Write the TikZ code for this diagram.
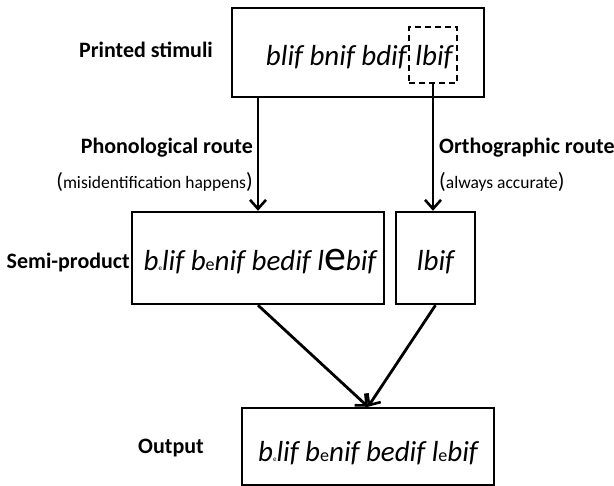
\documentclass[tikz,border=0pt]{standalone}
\usepackage{fontspec}
\setmainfont{Carlito}
\usetikzlibrary{arrows.meta}
\newcommand\mytinye{{\upshape\fontsize{7}{7}\selectfont e}}
\newcommand\mysmalle{{\upshape\fontsize{18}{18}\selectfont e}}
\newcommand\mybige{{\upshape\fontsize{44}{44}\selectfont e}}
\newcommand\mybigparen[1]{{\fontsize{22}{22}\selectfont #1}}
\begin{document}
\begin{tikzpicture}[x=1pt,y=-1pt,
  box/.style={draw, line width=2.4pt, inner sep=0pt},
  arr/.style={line width=2.8pt, -{Straight Barb[length=9pt,width=16pt,line width=2.6pt]}},
  lab/.style={font=\fontsize{22}{24}\selectfont\bfseries, inner sep=0pt},
  sub/.style={font=\fontsize{17.5}{19}\selectfont, inner sep=0pt},
  word/.style={font=\fontsize{29}{31}\selectfont\itshape, inner sep=0pt}]
\useasboundingbox (0,0) rectangle (614,486);
% boxes
\node[box, minimum width=252pt, minimum height=89pt] (top) at (358,52.5) {};
\node[box, minimum width=252pt, minimum height=92pt] (semiL) at (258,258) {};
\node[box, minimum width=79pt, minimum height=92pt] (semiR) at (435.5,258) {};
\node[box, minimum width=252pt, minimum height=77pt] (out) at (368,446.5) {};
% dashed box
\node[draw, dash pattern=on 6pt off 4pt, line width=1.6pt, minimum width=48pt, minimum height=56pt, inner sep=0pt] (dash) at (433,55) {};
% texts
\node[word, anchor=east] (t1) at (407,57) {blif bnif bdif};
\node[word] (t2) at (434,57) {lbif};
\node[word] (s1) at (260,262) {b\mytinye lif b\mysmalle nif bedif l\mybige bif};
\node[word] (s2) at (435.5,262) {lbif};
\node[word] (o1) at (368,453) {b\mytinye lif b\mysmalle nif bedif l\mysmalle bif};
% labels
\node[lab] (lp) at (146,50) {Printed stimuli};
\node[lab, anchor=east] (lph) at (253,148) {Phonological route};
\node[sub, anchor=east] (lmis) at (253,182) {\mybigparen{(}misidentification happens\mybigparen{)}};
\node[lab, anchor=west] (lor) at (439,148) {Orthographic route};
\node[sub, anchor=west] (lacc) at (439,182) {\mybigparen{(}always accurate\mybigparen{)}};
\node[lab, anchor=east] (lsemi) at (130,263) {Semi-product};
\node[lab] (lout) at (171,448) {Output};
% arrows
\draw[arr] (semiL.north |- top.south) -- (semiL.north);
\draw[arr] (dash.south) -- (dash.south |- semiR.north);
\draw[arr] (semiL.south) -- (out.north);
\draw[arr] (semiR.south) -- (out.north);
\end{tikzpicture}
\end{document}
